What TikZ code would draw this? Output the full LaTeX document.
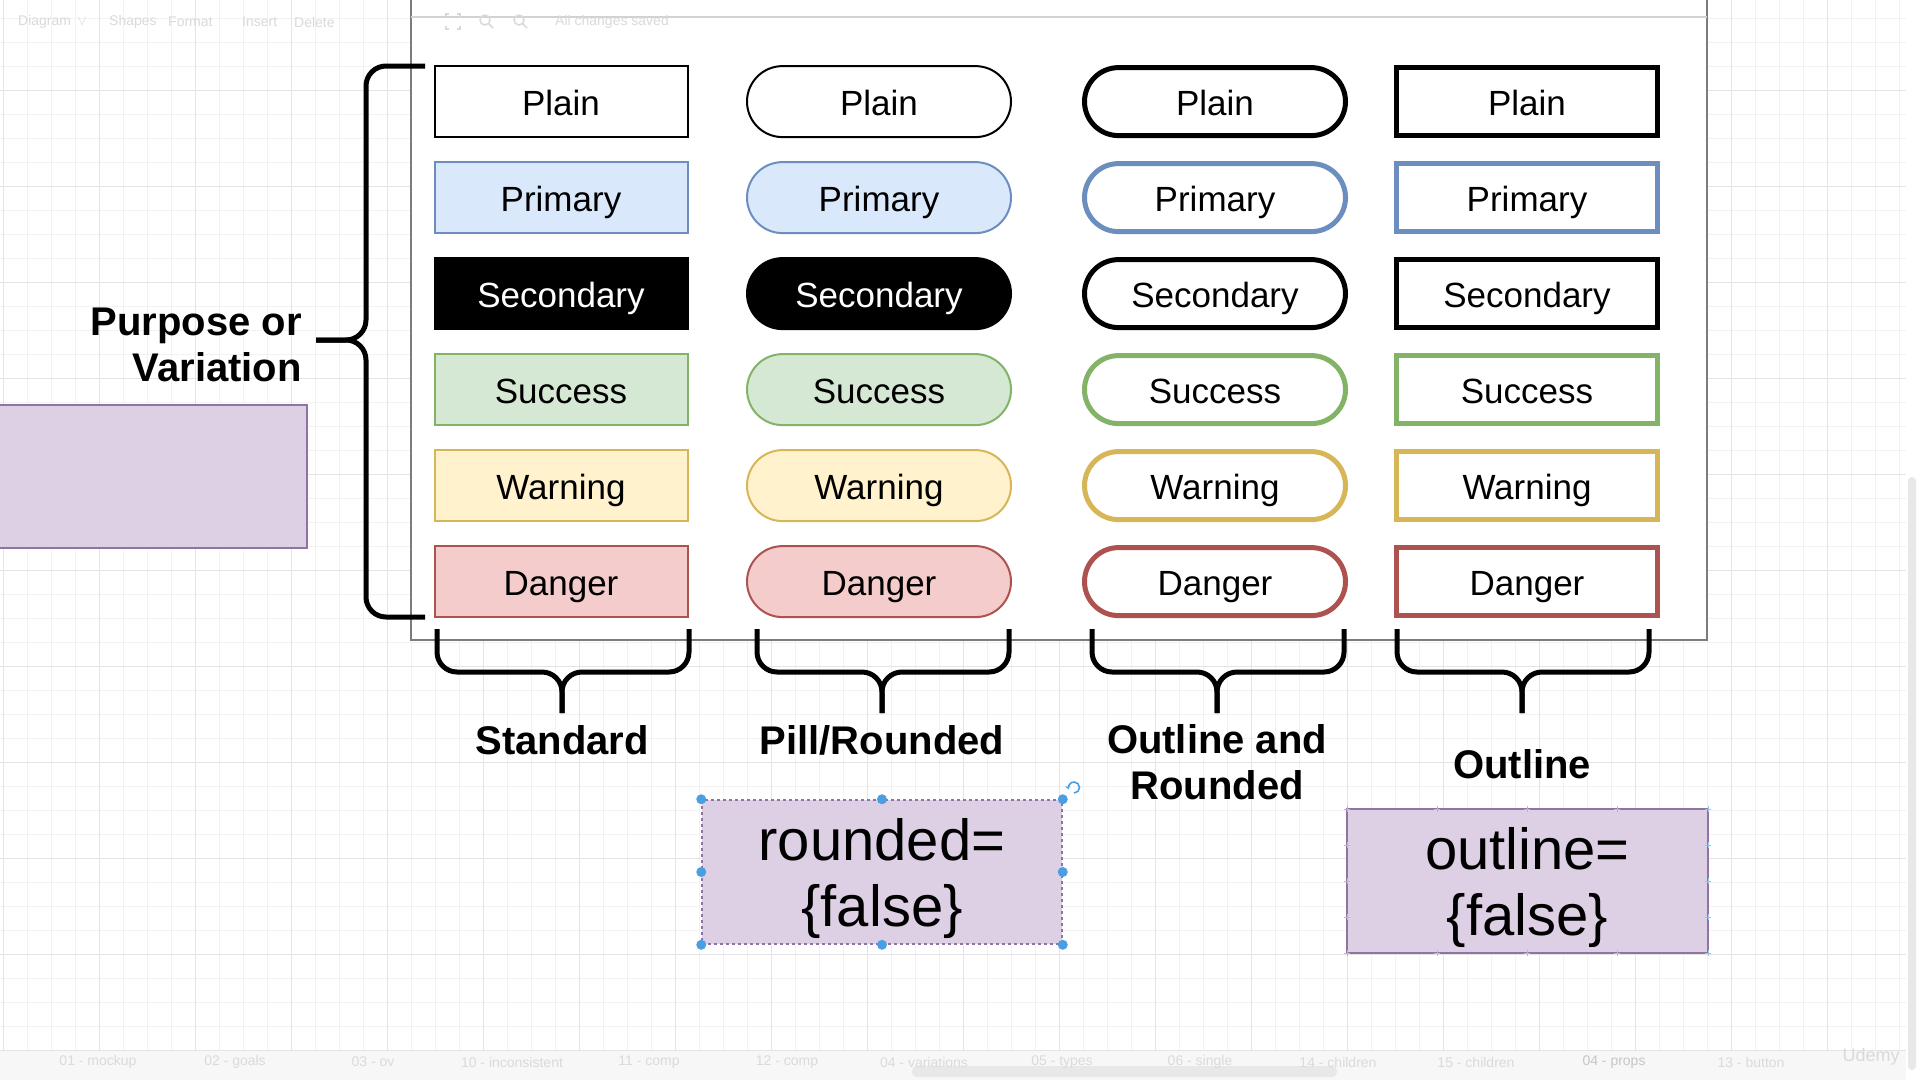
\documentclass[tikz,border=0pt]{standalone}
\usepackage{fontspec}
\setmainfont{Liberation Sans}
\usetikzlibrary{arrows.meta}
\definecolor{blueF}{HTML}{DAE8FC}
\definecolor{blueD}{HTML}{6C8EBF}
\definecolor{greenF}{HTML}{D5E8D4}
\definecolor{greenD}{HTML}{82B366}
\definecolor{yellowF}{HTML}{FFF2CC}
\definecolor{yellowD}{HTML}{D6B656}
\definecolor{redF}{HTML}{F4CCCB}
\definecolor{redD}{HTML}{AE5250}
\definecolor{purpleF}{HTML}{DDD0E4}
\definecolor{purpleD}{HTML}{8F74A2}
\definecolor{gridminor}{HTML}{F2F2F2}
\definecolor{gridmajor}{HTML}{E4E4E4}
\definecolor{uifaint}{HTML}{DADADA}
\definecolor{handle}{HTML}{4A9FE3}
\definecolor{frame}{HTML}{7C7C7C}
\begin{document}
\begin{tikzpicture}[x=1pt,y=-1pt,
  btn/.style={minimum width=253pt, minimum height=71pt, inner sep=0pt, text height=30pt, text depth=2pt, font=\fontsize{35}{42}\selectfont},
  stdbtn/.style={btn, line width=2pt},
  pillbtn/.style={btn, minimum width=264pt, rounded corners=35.5pt, line width=2pt},
  outrbtn/.style={btn, minimum width=261pt, minimum height=68pt, rounded corners=34pt, line width=5pt, fill=white},
  outlbtn/.style={btn, minimum width=261pt, minimum height=68pt, line width=5pt, fill=white},
  bracestyle/.style={line width=5pt, rounded corners=20pt, line cap=butt},
  lbl/.style={font=\fontsize{40}{46.5}\selectfont\bfseries, inner sep=0pt, align=center},
  propbox/.style={fill=purpleF, inner sep=0pt},
  proptext/.style={inner sep=0pt, font=\fontsize{58}{66}\selectfont, align=center},
  uitext/.style={text=uifaint, font=\fontsize{14}{16}\selectfont, inner sep=0pt},
  tabtext/.style={text=uifaint, font=\fontsize{14}{16}\selectfont, inner sep=0pt}
]
\useasboundingbox (0,0) rectangle (1920,1080);
\fill[white] (0,0) rectangle (1920,1080);
% grid
\foreach \x in {3,27,...,1900} \draw[gridminor, line width=1pt] (\x,0) -- (\x,1050);
\foreach \y in {18,42,...,1050} \draw[gridminor, line width=1pt] (0,\y) -- (1906,\y);
\foreach \x in {3,99,...,1900} \draw[gridmajor, line width=1pt] (\x,0) -- (\x,1050);
\foreach \y in {90,186,...,1050} \draw[gridmajor, line width=1pt] (0,\y) -- (1906,\y);
% right strip and scrollbars
\fill[white] (1906,0) rectangle (1920,1080);
\fill[gray!18, rounded corners=4pt] (1908,477) rectangle (1916,1070);
\fill[white!97!black] (0,1050) rectangle (1906,1080);
\draw[gridmajor, line width=1pt] (0,1050) -- (1906,1050);
\fill[gray!18, rounded corners=5pt] (912,1066) rectangle (1337,1077);
% container
\fill[white] (411,0) rectangle (1707,640);
\draw[frame, line width=2pt] (411,0) -- (411,640) -- (1707,640) -- (1707,0);
\draw[gray!35, line width=2.5pt] (411,17) -- (1707,17);
% toolbar (faint)
\node[uitext, anchor=west] (tb1) at (18,22) {Diagram \,$\vee$};
\node[uitext, anchor=west] (tb2) at (109,22) {Shapes};
\node[uitext, anchor=west] (tb3) at (168,22) {Format};
\node[uitext, anchor=west] (tb4) at (242,22) {Insert};
\node[uitext, anchor=west] (tb5) at (294,22) {Delete};
\node[uitext, anchor=west] (tb6) at (555,22) {All changes saved};
\draw[uifaint, line width=1.5pt] (446,16) -- (446,14) -- (449,14) (457,14) -- (460,14) -- (460,17) (460,26) -- (460,29) -- (457,29) (449,29) -- (446,29) -- (446,26);
\draw[uifaint, line width=1.5pt] (485,20) circle (5pt) (489,24) -- (493,28);
\draw[uifaint, line width=1.5pt] (519,20) circle (5pt) (523,24) -- (527,28);
% bottom tabs (faint)
\foreach \x/\t [count=\k] in {98/01 - mockup, 235/02 - goals, 373/03 - ov, 512/10 - inconsistent, 649/11 - comp, 787/12 - comp, 924/04 - variations, 1062/05 - types, 1200/06 - single, 1338/14 - children, 1476/15 - children, 1751/13 - button}
  \node[tabtext] (tab\k) at (\x,1062) {\t};
\node[tabtext, text=gray!45] (tabprops) at (1614,1062) {04 - props};
\node[tabtext, text=gray!30, font=\fontsize{18}{20}\selectfont] (udemy) at (1871,1057) {Udemy};
% buttons
\foreach \i/\t/\f/\d/\tc in {1/Plain/white/black/black, 2/Primary/blueF/blueD/black, 3/Secondary/black/black/white, 4/Success/greenF/greenD/black, 5/Warning/yellowF/yellowD/black, 6/Danger/redF/redD/black} {
  \pgfmathsetmacro\yy{101.6+96*(\i-1)}
  \node[stdbtn, fill=\f, draw=\d, text=\tc] (std\i) at (561,\yy) {\t};
  \node[pillbtn, fill=\f, draw=\d, text=\tc] (pill\i) at (879,\yy) {\t};
  \node[outrbtn, draw=\d] (outr\i) at (1215,\yy) {\t};
  \node[outlbtn, draw=\d] (outl\i) at (1527,\yy) {\t};
}
% left brace
\draw[bracestyle] (425,66) -- (366,66) -- (366,340) -- (316,340);
\draw[bracestyle] (425,617) -- (366,617) -- (366,340) -- (316,340);
\node[lbl, align=right, anchor=east] (purpose) at (302,345) {Purpose or\\Variation};
% left purple box
\node[draw=purpleD, fill=purpleF, line width=2pt, minimum width=316pt, minimum height=143pt, anchor=north west, inner sep=0pt] (pbox) at (-10,404) {};
% bottom braces
\foreach \L/\R/\T [count=\k] in {437/689/562, 757/1009/882, 1092/1344/1217, 1397/1649/1522} {
  \draw[bracestyle] (\L,629) -- (\L,672) -- (\T,672) -- (\T,713);
  \draw[bracestyle] (\R,629) -- (\R,672) -- (\T,672) -- (\T,713);
}
\node[lbl] (lstd) at (562,740) {Standard};
\node[lbl] (lpill) at (882,740) {Pill/Rounded};
\node[lbl] (loutr) at (1217,762) {Outline and\\Rounded};
\node[lbl] (loutl) at (1522,764) {Outline};
% rounded={false} box (selected)
\node[propbox, minimum width=360pt, minimum height=144pt, draw=purpleD, dashed, line width=1.5pt] (rfalse) at (882,872) {};
\node[proptext] (rfalsetxt) at ([yshift=-6pt]rfalse.center) {rounded=\\\{false\}};
\foreach \a in {north west, north, north east, east, south east, south, south west, west}
  \fill[handle] (rfalse.\a) circle (5pt);
\draw[handle, line width=1.6pt, -{Stealth[length=4pt,width=5pt]}] (1074,793) arc[start angle=90, end angle=-200, radius=5.5];
% outline={false} box
\node[propbox, minimum width=361pt, minimum height=144pt, draw=purpleD, line width=2pt] (ofalse) at (1527.5,881) {};
\node[proptext] (ofalsetxt) at ([yshift=-6pt]ofalse.center) {outline=\\\{false\}};
\foreach \x in {1347,1437,1527,1617,1708} {
  \draw[handle!60, line width=1pt] (\x-3,809) -- (\x+3,809) (\x,806) -- (\x,812);
  \draw[handle!60, line width=1pt] (\x-3,953) -- (\x+3,953) (\x,950) -- (\x,956);
}
\foreach \y in {845,881,917} {
  \draw[handle!60, line width=1pt] (1344,\y) -- (1350,\y) (1347,\y-3) -- (1347,\y+3);
  \draw[handle!60, line width=1pt] (1705,\y) -- (1711,\y) (1708,\y-3) -- (1708,\y+3);
}
\end{tikzpicture}
\end{document}
